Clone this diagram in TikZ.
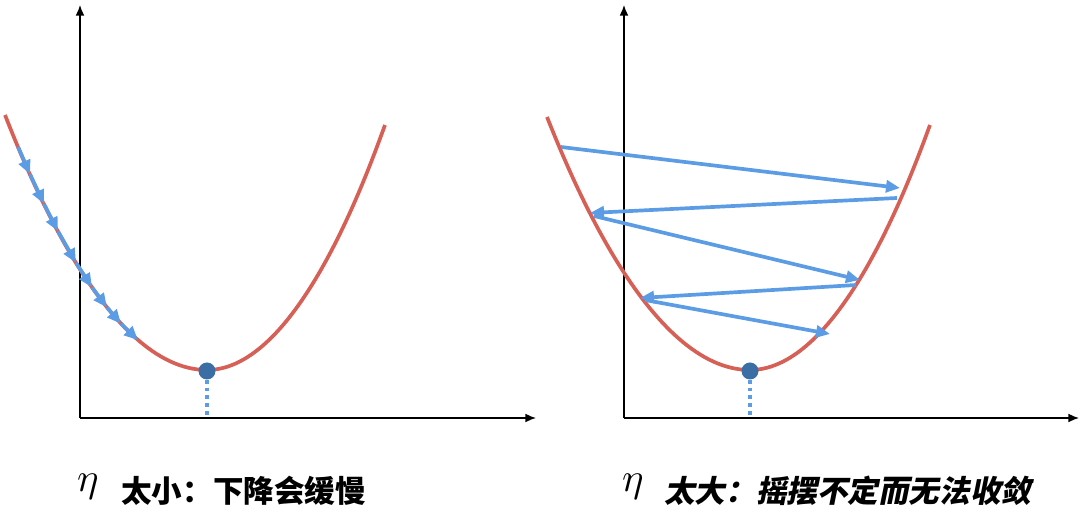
\documentclass[tikz,border=0pt]{standalone}
\usepackage{fontspec}
\newfontfamily\cjk{Noto Sans CJK SC}
\newfontfamily\cjkslant[FakeSlant=0.2]{Noto Sans CJK SC}
\usetikzlibrary{arrows.meta}
\definecolor{curvered}{RGB}{214,96,86}
\definecolor{stepblue}{RGB}{92,156,228}
\definecolor{dotblue}{RGB}{58,110,165}
\tikzset{
  axis/.style={line width=0.8pt,-{Latex[length=6pt,width=5pt]}},
  loss/.style={curvered,line width=2.1pt},
  stepline/.style={stepblue,line width=2.1pt,-{Triangle[length=0.28cm,width=0.24cm]}},
  optimum/.style={circle,fill=dotblue,inner sep=0pt,minimum size=0.34cm},
  drop/.style={stepblue,line width=2.1pt,dash pattern=on 2.2pt off 2.2pt},
  caption/.style={anchor=west,inner sep=0pt}
}
\begin{document}
\begin{tikzpicture}[x=0.02cm,y=-0.02cm]
  \useasboundingbox (0,0) rectangle (1080,516);
  % small learning rate
  \coordinate (O1) at (80,418);
  \draw[axis] (O1) -- (80,5);
  \draw[axis] (O1) -- (536,418);
  \draw[loss] (5,115) parabola bend (207,370) (385,125);
  \foreach \a/\b in {18/30,30/44,44/58,58/76,76/92,92/107,107/121,121/138}
    \draw[stepline] (\a,{370-62.5*((\a-207)/100)^2}) -- (\b,{370-62.5*((\b-207)/100)^2});
  \node[optimum] (min1) at (207,371) {};
  \draw[drop] (min1.south) -- (207,418);
  \node[scale=2.3] (eta1) at (88,487) {$\eta$};
  \node[caption] (txt1) at (121,491) {\fontsize{17.4}{17.4}\selectfont\cjk\bfseries 太小：下降会缓慢};
  % large learning rate
  \coordinate (O2) at (624,418);
  \draw[axis] (O2) -- (624,5);
  \draw[axis] (O2) -- (1079,418);
  \draw[loss] (547,117) parabola bend (750,370) (930,125);
  \coordinate (p1) at (561,147);
  \coordinate (p2) at (900,188);
  \coordinate (p3) at (897,198);
  \coordinate (p4) at (590,213);
  \coordinate (p5) at (594,216);
  \coordinate (p6) at (860,280);
  \coordinate (p7) at (856,285);
  \coordinate (p8) at (640,298);
  \coordinate (p9) at (645,300);
  \coordinate (p10) at (830,334);
  \draw[stepline] (p1) -- (p2);
  \draw[stepline] (p3) -- (p4);
  \draw[stepline] (p5) -- (p6);
  \draw[stepline] (p7) -- (p8);
  \draw[stepline] (p9) -- (p10);
  \node[optimum] (min2) at (750,371) {};
  \draw[drop] (min2.south) -- (750,418);
  \node[scale=2.3] (eta2) at (633,487) {$\eta$};
  \node[caption] (txt2) at (664,491) {\fontsize{17.4}{17.4}\selectfont\cjkslant\bfseries 太大：摇摆不定而无法收敛};
\end{tikzpicture}
\end{document}
